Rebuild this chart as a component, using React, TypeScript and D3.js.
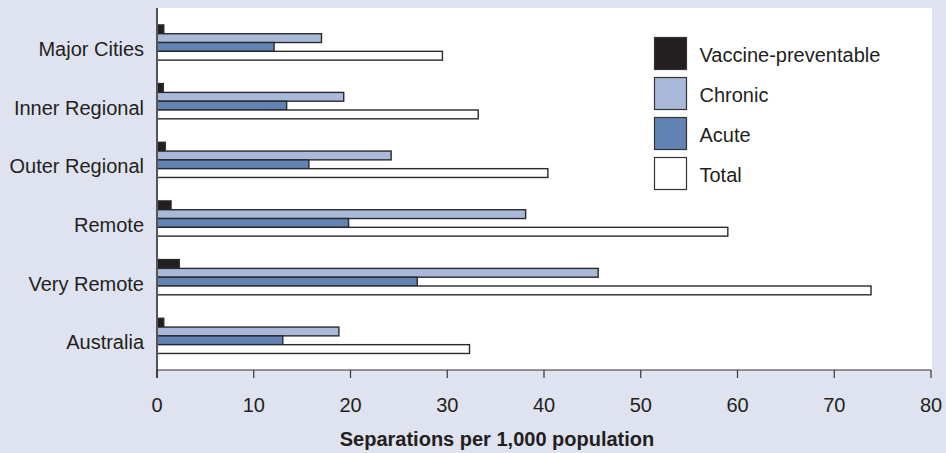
import React from "react";
import * as d3 from "d3";

const categories = ["Major Cities", "Inner Regional", "Outer Regional", "Remote", "Very Remote", "Australia"];
const seriesNames = ["Vaccine-preventable", "Chronic", "Acute", "Total"];
const vaccineValues = [0.7, 0.65, 0.85, 1.45, 2.3, 0.7];
const chronicValues = [17.0, 19.3, 24.2, 38.1, 45.6, 18.8];
const acuteValues = [12.1, 13.4, 15.7, 19.8, 26.9, 13.0];
const totalValues = [29.5, 33.2, 40.4, 59.0, 73.8, 32.3];
const xTicks = [0, 10, 20, 30, 40, 50, 60, 70, 80];
const seriesColors = ["#231f20", "#a9b9d9", "#6383b4", "#ffffff"];

const W = 946;
const H = 453;
const FONT = "'Liberation Sans', Arial, Helvetica, sans-serif";

export default function App() {
  const seriesValues = [vaccineValues, chronicValues, acuteValues, totalValues];
  const x = d3.scaleLinear().domain([0, 80]).range([157, 931]);
  const y = d3.scaleBand<string>().domain(categories).range([13.2, 365.2]).paddingInner(0.4).paddingOuter(0.2);
  const ySub = d3.scaleBand<string>().domain(seriesNames).range([0, y.bandwidth()]).padding(0);
  const plotLeft = 157;
  const plotRight = 932;
  const plotTop = 8;
  const axisY = 370;

  return (
    <svg width={W} height={H} style={{ position: "absolute", left: 0, top: 0, display: "block" }} fontFamily={FONT}>
      <rect x={0} y={0} width={W} height={H} fill="#dfe3ef" />
      <rect x={plotLeft} y={plotTop} width={plotRight - plotLeft} height={axisY - plotTop} fill="#ffffff" />

      {categories.map((c, i) => (
        <g key={c}>
          {seriesNames.map((s, j) => {
            const v = seriesValues[j][i];
            const yy = (y(c) as number) + (ySub(s) as number);
            return (
              <rect
                key={s}
                x={x(0)}
                y={yy}
                width={x(v) - x(0)}
                height={ySub.bandwidth()}
                fill={seriesColors[j]}
                stroke="#2a2a2a"
                strokeWidth={1.4}
              />
            );
          })}
          <text
            x={144}
            y={(y(c) as number) + y.bandwidth() / 2 + 13.5}
            textAnchor="end"
            fontSize={20}
            fill="#231f20"
          >
            {c}
          </text>
        </g>
      ))}

      {/* axes */}
      <line x1={plotLeft} x2={plotLeft} y1={plotTop} y2={axisY + 8} stroke="#555" strokeWidth={2} />
      <line x1={plotLeft} x2={x(80)} y1={axisY} y2={axisY} stroke="#333" strokeWidth={1.2} />
      {xTicks.map((t) => (
        <g key={t}>
          <line x1={x(t)} x2={x(t)} y1={axisY} y2={axisY + 8} stroke="#333" strokeWidth={1.2} />
          <text x={x(t)} y={412} textAnchor="middle" fontSize={20} fill="#231f20">
            {t}
          </text>
        </g>
      ))}
      <text x={497} y={446} textAnchor="middle" fontSize={20} fontWeight="bold" fill="#231f20">
        Separations per 1,000 population
      </text>

      {/* legend */}
      {seriesNames.map((s, j) => (
        <g key={s} transform={`translate(654.5, ${37.5 + j * 40})`}>
          <rect x={0} y={0} width={32} height={32} fill={seriesColors[j]} stroke="#333" strokeWidth={1.2} />
          <text x={45} y={24} fontSize={20} fill="#231f20">
            {s}
          </text>
        </g>
      ))}
    </svg>
  );
}
